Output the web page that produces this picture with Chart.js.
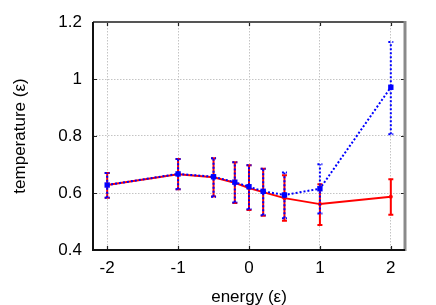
<!DOCTYPE html>
<html><head><meta charset="utf-8">
<script src="https://cdn.jsdelivr.net/npm/chart.js@4"></script>
<style>html,body{margin:0;padding:0;background:#fff}#c{display:block}</style>
</head><body>
<canvas id="c" width="436" height="305"></canvas>
<script>
// ---- data ----
const energies = [-2, -1, -0.5, -0.2, 0, 0.2, 0.5, 1, 2];
const redT   = [0.628, 0.666, 0.655, 0.636, 0.617, 0.603, 0.582, 0.561, 0.587];
const redLo  = [0.583, 0.613, 0.588, 0.565, 0.540, 0.520, 0.503, 0.488, 0.524];
const redHi  = [0.670, 0.719, 0.722, 0.708, 0.697, 0.685, 0.662, 0.631, 0.648];
const blueT  = [0.628, 0.667, 0.657, 0.638, 0.622, 0.606, 0.593, 0.615, 0.971];
const blueLo = [0.583, 0.613, 0.587, 0.567, 0.543, 0.522, 0.511, 0.528, 0.806];
const blueHi = [0.670, 0.719, 0.722, 0.708, 0.697, 0.685, 0.672, 0.701, 1.130];
const xTicks = [-2, -1, 0, 1, 2];
const xTickLabels = ['-2', '-1', '0', '1', '2'];
const yTicks = [0.4, 0.6, 0.8, 1.0, 1.2];
const yTickLabels = ['0.4', '0.6', '0.8', '1', '1.2'];
const xTitle = 'energy (ε)';
const yTitle = 'temperature (ε)';

const FONT = "'Liberation Sans', Arial, Helvetica, sans-serif";
const FSIZE = 17;
const errs = { red: [redLo, redHi], blue: [blueLo, blueHi] };

const errPlugin = {
  id: 'errbars',
  afterDatasetDraw(chart, args) {
    const ds = chart.data.datasets[args.index];
    const e = errs[ds.key];
    if (!e) return;
    const xs = chart.scales.x, ys = chart.scales.y, ctx = chart.ctx;
    const cap = 2.5;
    ctx.save();
    ctx.strokeStyle = ds.borderColor;
    ctx.lineWidth = 2;
    ctx.setLineDash(ds.borderDash || []);
    ds.data.forEach((p, i) => {
      const px = xs.getPixelForValue(p.x);
      const lo = ys.getPixelForValue(e[0][i]);
      const hi = ys.getPixelForValue(e[1][i]);
      ctx.beginPath();
      ctx.moveTo(px, lo); ctx.lineTo(px, hi);
      ctx.moveTo(px - cap, lo); ctx.lineTo(px + cap, lo);
      ctx.moveTo(px - cap, hi); ctx.lineTo(px + cap, hi);
      ctx.stroke();
    });
    ctx.restore();
  }
};

const framePlugin = {
  id: 'frame',
  afterDraw(chart) {
    const {ctx, chartArea: a} = chart;
    const xs = chart.scales.x, ys = chart.scales.y;
    ctx.save();
    ctx.setLineDash([]);
    ctx.strokeStyle = '#222';
    ctx.lineWidth = 1.2;
    const tl = 4;
    ctx.beginPath();
    xTicks.forEach(v => {
      const px = Math.round(xs.getPixelForValue(v)) + 0.5;
      ctx.moveTo(px, a.bottom); ctx.lineTo(px, a.bottom - tl);
      ctx.moveTo(px, a.top); ctx.lineTo(px, a.top + tl);
    });
    yTicks.forEach(v => {
      const py = Math.round(ys.getPixelForValue(v)) + 0.5;
      ctx.moveTo(a.left, py); ctx.lineTo(a.left + tl, py);
      ctx.moveTo(a.right, py); ctx.lineTo(a.right - tl, py);
    });
    ctx.stroke();
    ctx.lineWidth = 2;
    ctx.strokeStyle = '#555';
    ctx.beginPath(); ctx.moveTo(a.left, a.top); ctx.lineTo(a.right, a.top); ctx.stroke();
    ctx.strokeStyle = '#8a8a8a';
    ctx.lineWidth = 3;
    ctx.beginPath(); ctx.moveTo(a.right, a.top - 1); ctx.lineTo(a.right, a.bottom + 1); ctx.stroke();
    ctx.strokeStyle = '#111';
    ctx.lineWidth = 2;
    ctx.beginPath();
    ctx.moveTo(a.left, a.top); ctx.lineTo(a.left, a.bottom); ctx.lineTo(a.right, a.bottom);
    ctx.stroke();
    ctx.restore();
  }
};

new Chart(document.getElementById('c'), {
  type: 'scatter',
  data: {
    datasets: [
      {
        key: 'blue',
        order: 1,
        data: energies.map((x, i) => ({x, y: blueT[i]})),
        showLine: true,
        borderColor: '#0000ff',
        backgroundColor: '#0000ff',
        borderWidth: 2,
        borderDash: [2, 2],
        pointStyle: 'rect',
        pointRadius: 3.8,
        pointBorderWidth: 0,
        pointBackgroundColor: '#0000ff'
      },
      {
        key: 'red',
        order: 2,
        data: energies.map((x, i) => ({x, y: redT[i]})),
        showLine: true,
        borderColor: '#ff0000',
        backgroundColor: '#ff0000',
        borderWidth: 2,
        pointStyle: 'circle',
        pointRadius: 2,
        pointBorderWidth: 0,
        pointBackgroundColor: '#ff0000'
      }
    ]
  },
  options: {
    responsive: false,
    animation: false,
    devicePixelRatio: 1,
    layout: { padding: { top: 22, right: 31, left: 0, bottom: 0 } },
    plugins: { legend: { display: false }, tooltip: { enabled: false } },
    scales: {
      x: {
        type: 'linear',
        min: -2.2, max: 2.2,
        afterBuildTicks: s => { s.ticks = xTicks.map(v => ({value: v})); },
        afterFit: s => { s.height = 55; },
        ticks: {
          padding: 8,
          color: '#000',
          font: { family: FONT, size: FSIZE },
          callback: (v) => xTickLabels[xTicks.indexOf(v)] ?? ''
        },
        grid: { color: '#c4c4c4', lineWidth: 1, drawTicks: false },
        border: { display: false, dash: [1.5, 1.5] },
        title: { display: true, text: xTitle, color: '#000', font: { family: FONT, size: FSIZE }, padding: { top: 0, bottom: -3 } }
      },
      y: {
        type: 'linear',
        min: 0.4, max: 1.2,
        afterBuildTicks: s => { s.ticks = yTicks.map(v => ({value: v})); },
        afterFit: s => { s.width = 93; },
        ticks: {
          padding: 11,
          color: '#000',
          font: { family: FONT, size: FSIZE },
          callback: (v) => { const i = yTicks.findIndex(t => Math.abs(t - v) < 1e-9); return i >= 0 ? yTickLabels[i] : ''; }
        },
        grid: { color: '#c4c4c4', lineWidth: 1, drawTicks: false },
        border: { display: false, dash: [1.5, 1.5] },
        title: { display: true, text: yTitle, color: '#000', font: { family: FONT, size: FSIZE }, padding: { top: 10, bottom: 0 } }
      }
    }
  },
  plugins: [errPlugin, framePlugin]
});
</script>
</body></html>
